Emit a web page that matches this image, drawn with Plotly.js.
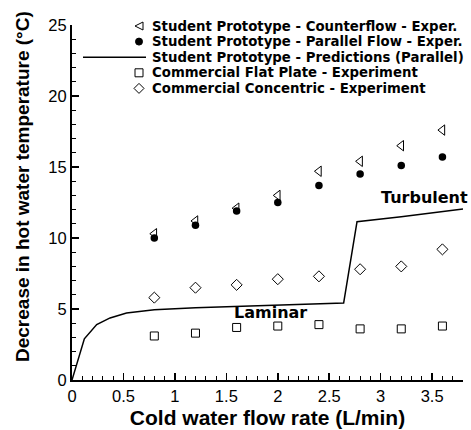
<!DOCTYPE html>
<html>
<head>
<meta charset="utf-8">
<script src="https://cdn.plot.ly/plotly-3.0.1.min.js"></script>
<style>html,body{margin:0;padding:0;background:#fff;}#chart{width:471px;height:430px;}</style>
</head>
<body>
<div id="chart"></div>
<script>
// Flow rates (L/min)
const flowRates = [0.8, 1.2, 1.6, 2.0, 2.4, 2.8, 3.2, 3.6];
// Student prototype - counterflow experiment
const counterflowExp = [10.3, 11.2, 12.1, 13.0, 14.7, 15.4, 16.5, 17.6];
// Student prototype - parallel flow experiment
const parallelExp = [10.0, 10.9, 11.9, 12.5, 13.7, 14.5, 15.1, 15.7];
// Commercial flat plate experiment
const flatPlateExp = [3.1, 3.3, 3.7, 3.8, 3.9, 3.6, 3.6, 3.8];
// Commercial concentric experiment
const concentricExp = [5.8, 6.5, 6.7, 7.1, 7.3, 7.8, 8.0, 9.2];
// Student prototype predictions (parallel)
const predFlow = [0, 0.12, 0.24, 0.37, 0.53, 0.8, 1.2, 1.6, 2.0, 2.4, 2.64, 2.77, 3.2, 3.8];
const predDrop = [0, 2.9, 3.9, 4.37, 4.72, 4.95, 5.08, 5.18, 5.27, 5.35, 5.42, 11.15, 11.5, 12.05];

const legendNames = [
  'Student Prototype - Counterflow - Exper.',
  'Student Prototype - Parallel Flow - Exper.',
  'Student Prototype - Predictions (Parallel)',
  'Commercial Flat Plate - Experiment',
  'Commercial Concentric - Experiment'
];
const xTicks = [0, 0.5, 1, 1.5, 2, 2.5, 3, 3.5];
const xTickText = ['0', '0.5', '1', '1.5', '2', '2.5', '3', '3.5'];
const yTicks = [0, 5, 10, 15, 20, 25];
const yTickText = ['0', '5', '10', '15', '20', '25'];

const FONT = 'Liberation Sans, Arial, Helvetica, sans-serif';
const WIDE = 'DejaVu Sans, Liberation Sans, sans-serif';

const traces = [
  {x: flowRates, y: counterflowExp, mode: 'markers', name: legendNames[0],
   marker: {symbol: 'triangle-left-open', size: 9, color: '#000', line: {width: 1, color: '#000'}}},
  {x: flowRates, y: parallelExp, mode: 'markers', name: legendNames[1],
   marker: {symbol: 'circle', size: 7.5, color: '#000'}},
  {x: predFlow, y: predDrop, mode: 'lines', name: legendNames[2],
   line: {color: '#000', width: 1.5}},
  {x: flowRates, y: flatPlateExp, mode: 'markers', name: legendNames[3],
   marker: {symbol: 'square-open', size: 8, color: '#000', line: {width: 1, color: '#000'}}},
  {x: flowRates, y: concentricExp, mode: 'markers', name: legendNames[4],
   marker: {symbol: 'diamond-open', size: 8.5, color: '#000', line: {width: 1, color: '#000'}}}
];

// manual legend (Tecplot style)
const L = 72, R = 8, T = 25, B = 50, W = 471, H = 430;
const pw = W - L - R, ph = H - T - B;
const px2x = p => (p - L) / pw;
const py2y = p => (H - B - p) / ph;
const rowY = [26, 41.6, 57.2, 72.8, 88.4];
const symX = px2x(139);
const textX = px2x(150);

const annotations = legendNames.map((n, i) => ({
  xref: 'paper', yref: 'paper', x: textX, y: py2y(rowY[i]),
  xanchor: 'left', yanchor: 'middle', showarrow: false,
  text: '<b>' + n + '</b>', font: {family: WIDE, size: 13.3, color: '#000'}
}));
annotations.push({xref: 'x', yref: 'y', x: 3.43, y: 12.86, showarrow: false,
  text: '<b>Turbulent</b>', font: {family: WIDE, size: 16, color: '#000'}});
annotations.push({xref: 'x', yref: 'y', x: 1.93, y: 4.74, showarrow: false,
  text: '<b>Laminar</b>', font: {family: WIDE, size: 16, color: '#000'}});
// y axis title, placed like the reference
annotations.push({xref: 'paper', yref: 'paper', x: px2x(23), y: py2y(187),
  xanchor: 'center', yanchor: 'middle', textangle: -90, showarrow: false,
  text: '<b>Decrease in hot water temperature (°C)</b>', font: {family: FONT, size: 19, color: '#000'}});

const shapes = [
  {type: 'path', xref: 'paper', yref: 'paper', xsizemode: 'pixel', ysizemode: 'pixel',
   xanchor: symX, yanchor: py2y(rowY[0]), path: 'M -4 0 L 4 4 L 4 -4 Z',
   line: {color: '#000', width: 1}, fillcolor: 'rgba(0,0,0,0)'},
  {type: 'circle', xref: 'paper', yref: 'paper', xsizemode: 'pixel', ysizemode: 'pixel',
   xanchor: symX, yanchor: py2y(rowY[1]), x0: -3.5, x1: 3.5, y0: -3.5, y1: 3.5,
   line: {color: '#000', width: 1}, fillcolor: '#000'},
  {type: 'line', xref: 'paper', yref: 'paper', x0: px2x(83), x1: px2x(146),
   y0: py2y(rowY[2]), y1: py2y(rowY[2]), line: {color: '#000', width: 1.5}},
  {type: 'rect', xref: 'paper', yref: 'paper', xsizemode: 'pixel', ysizemode: 'pixel',
   xanchor: symX, yanchor: py2y(rowY[3]), x0: -4, x1: 4, y0: -4, y1: 4,
   line: {color: '#000', width: 1}, fillcolor: 'rgba(0,0,0,0)'},
  {type: 'path', xref: 'paper', yref: 'paper', xsizemode: 'pixel', ysizemode: 'pixel',
   xanchor: symX, yanchor: py2y(rowY[4]), path: 'M -5 0 L 0 5 L 5 0 L 0 -5 Z',
   line: {color: '#000', width: 1}, fillcolor: 'rgba(0,0,0,0)'}
];

const layout = {
  width: W, height: H,
  margin: {l: L, r: R, t: T, b: B, pad: 0},
  paper_bgcolor: '#fff', plot_bgcolor: '#fff',
  showlegend: false,
  font: {family: FONT, color: '#000'},
  xaxis: {
    range: [0, 3.8], tickvals: xTicks, ticktext: xTickText,
    showgrid: false, zeroline: false, showline: true, linewidth: 2, linecolor: '#000',
    ticks: 'inside', ticklen: 7, tickwidth: 1.5, tickcolor: '#000',
    minor: {ticks: 'inside', dtick: 0.1, ticklen: 4, tickwidth: 1, tickcolor: '#000', showgrid: false},
    tickfont: {family: FONT, size: 16.5, color: '#000'},
    title: {text: '<b>Cold water flow rate (L/min)</b>', font: {family: FONT, size: 21, color: '#000'}, standoff: 7}
  },
  yaxis: {
    range: [0, 25], tickvals: yTicks, ticktext: yTickText,
    showgrid: false, zeroline: false, showline: true, linewidth: 2, linecolor: '#000',
    ticks: 'inside', ticklen: 7, tickwidth: 1.5, tickcolor: '#000',
    minor: {ticks: 'inside', dtick: 1, ticklen: 4, tickwidth: 1, tickcolor: '#000', showgrid: false},
    tickfont: {family: FONT, size: 16.5, color: '#000'}
  },
  annotations: annotations,
  shapes: shapes
};

Plotly.newPlot('chart', traces, layout, {displayModeBar: false, staticPlot: true});
</script>
</body>
</html>
